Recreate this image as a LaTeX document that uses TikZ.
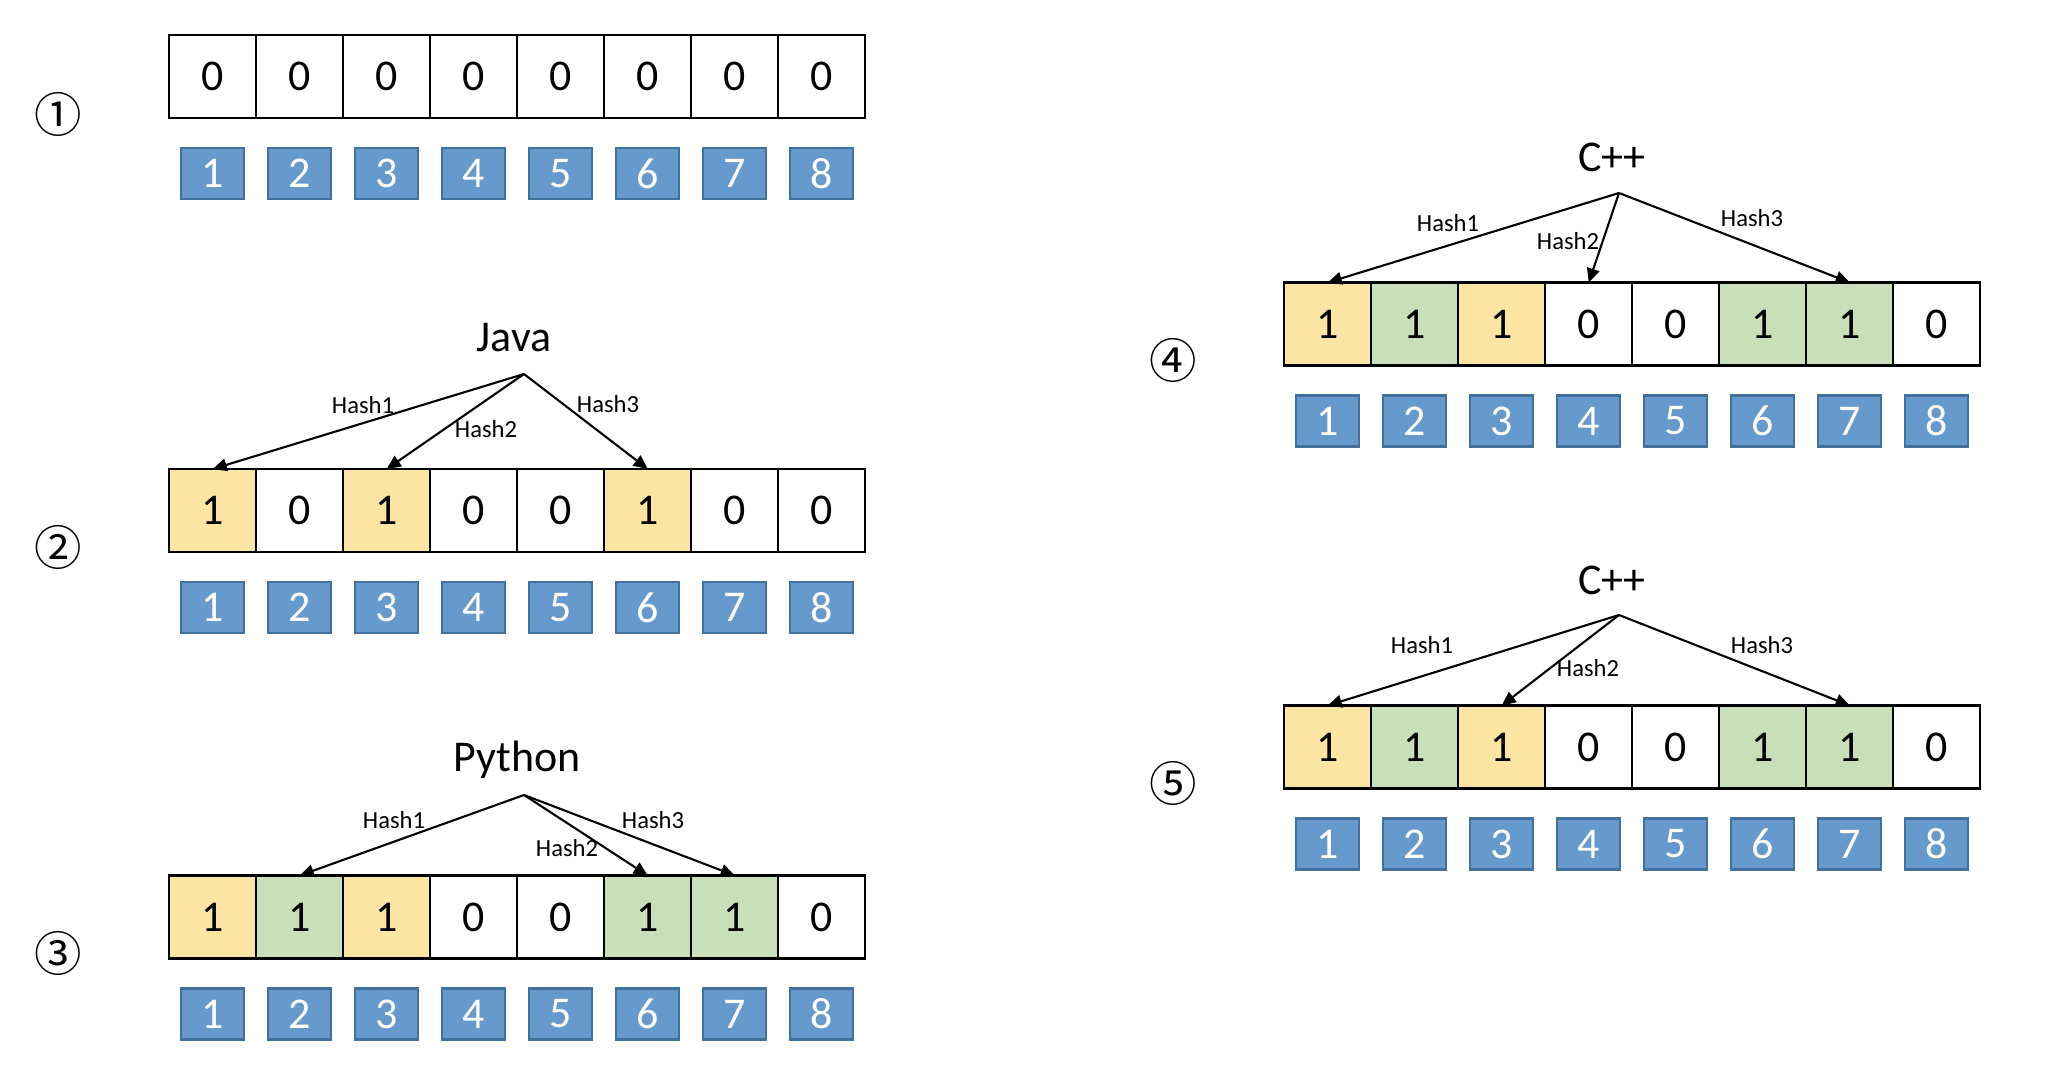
\documentclass[tikz,border=0pt]{standalone}
\usepackage{fontspec}
\setmainfont{Carlito}
\newfontfamily\circfont{Noto Sans CJK SC}
\usepackage{tikz}
\usetikzlibrary{positioning, arrows.meta}
\definecolor{bitYellow}{HTML}{FBE5A3}
\definecolor{bitGreen}{HTML}{C9DFB9}
\definecolor{idxBlue}{HTML}{6699CC}
\definecolor{idxEdge}{HTML}{41719C}

\begin{document}
\begin{tikzpicture}[
  every node/.style={inner sep=0pt, outer sep=0pt},
  bit/.style={draw, line width=0.7pt, minimum width=0.87cm,
    minimum height=0.83cm, font=\fontsize{12.5}{14}\selectfont},
  yellowbit/.style={bit, fill=bitYellow},
  greenbit/.style={bit, fill=bitGreen},
  idx/.style={draw=idxEdge, fill=idxBlue, line width=0.7pt,
    minimum width=0.63cm, minimum height=0.51cm, text=white,
    font=\fontsize{12.5}{14}\selectfont},
  word/.style={font=\fontsize{12.5}{14}\selectfont},
  hashlabel/.style={font=\fontsize{7}{8}\selectfont},
  stepnum/.style={font=\circfont\fontsize{13.5}{15}\selectfont},
  hashline/.style={line width=0.6pt, -{Triangle[length=4pt, width=3.6pt]}},
]
\useasboundingbox (0,0) rectangle (20.48,-10.76);

% Step numbers
\node[stepnum] (n1) at (0.58,-1.14) {①};
\node[stepnum] (n2) at (0.58,-5.47) {②};
\node[stepnum] (n3) at (0.58,-9.53) {③};
\node[stepnum] (n4) at (11.73,-3.60) {④};
\node[stepnum] (n5) at (11.73,-7.83) {⑤};

% Step 1: empty array
\node[bit] (init1) at (2.1275,-0.765) {0};
\node[bit, right=0pt of init1] (init2) {0};
\node[bit, right=0pt of init2] (init3) {0};
\node[bit, right=0pt of init3] (init4) {0};
\node[bit, right=0pt of init4] (init5) {0};
\node[bit, right=0pt of init5] (init6) {0};
\node[bit, right=0pt of init6] (init7) {0};
\node[bit, right=0pt of init7] (init8) {0};
\node[idx, below=0.3cm of init1] (initIdx1) {1};
\node[idx, below=0.3cm of init2] (initIdx2) {2};
\node[idx, below=0.3cm of init3] (initIdx3) {3};
\node[idx, below=0.3cm of init4] (initIdx4) {4};
\node[idx, below=0.3cm of init5] (initIdx5) {5};
\node[idx, below=0.3cm of init6] (initIdx6) {6};
\node[idx, below=0.3cm of init7] (initIdx7) {7};
\node[idx, below=0.3cm of init8] (initIdx8) {8};

% Step 2: Java
\node[word] (java) at (5.14,-3.38) {Java};
\coordinate (javaTop) at (5.24,-3.74);
\node[yellowbit] (java1) at (2.1275,-5.105) {1};
\node[bit, right=0pt of java1] (java2) {0};
\node[yellowbit, right=0pt of java2] (java3) {1};
\node[bit, right=0pt of java3] (java4) {0};
\node[bit, right=0pt of java4] (java5) {0};
\node[yellowbit, right=0pt of java5] (java6) {1};
\node[bit, right=0pt of java6] (java7) {0};
\node[bit, right=0pt of java7] (java8) {0};
\node[idx, below=0.3cm of java1] (javaIdx1) {1};
\node[idx, below=0.3cm of java2] (javaIdx2) {2};
\node[idx, below=0.3cm of java3] (javaIdx3) {3};
\node[idx, below=0.3cm of java4] (javaIdx4) {4};
\node[idx, below=0.3cm of java5] (javaIdx5) {5};
\node[idx, below=0.3cm of java6] (javaIdx6) {6};
\node[idx, below=0.3cm of java7] (javaIdx7) {7};
\node[idx, below=0.3cm of java8] (javaIdx8) {8};
\draw[hashline] (javaTop) -- (java1.north);
\draw[hashline] (javaTop) -- (java3.north);
\draw[hashline] (javaTop) -- (java6.north);
\node[hashlabel] (javaH1) at (3.63,-4.05) {Hash1};
\node[hashlabel] (javaH2) at (4.86,-4.29) {Hash2};
\node[hashlabel] (javaH3) at (6.08,-4.04) {Hash3};

% Step 3: Python
\node[word] (py) at (5.17,-7.60) {Python};
\coordinate (pyTop) at (5.24,-7.95);
\node[yellowbit] (py1) at (2.1275,-9.17) {1};
\node[greenbit, right=0pt of py1] (py2) {1};
\node[yellowbit, right=0pt of py2] (py3) {1};
\node[bit, right=0pt of py3] (py4) {0};
\node[bit, right=0pt of py4] (py5) {0};
\node[greenbit, right=0pt of py5] (py6) {1};
\node[greenbit, right=0pt of py6] (py7) {1};
\node[bit, right=0pt of py7] (py8) {0};
\node[idx, below=0.3cm of py1] (pyIdx1) {1};
\node[idx, below=0.3cm of py2] (pyIdx2) {2};
\node[idx, below=0.3cm of py3] (pyIdx3) {3};
\node[idx, below=0.3cm of py4] (pyIdx4) {4};
\node[idx, below=0.3cm of py5] (pyIdx5) {5};
\node[idx, below=0.3cm of py6] (pyIdx6) {6};
\node[idx, below=0.3cm of py7] (pyIdx7) {7};
\node[idx, below=0.3cm of py8] (pyIdx8) {8};
\draw[hashline] (pyTop) -- (py2.north);
\draw[hashline] (pyTop) -- (py6.north);
\draw[hashline] (pyTop) -- (py7.north);
\node[hashlabel] (pyH1) at (3.94,-8.20) {Hash1};
\node[hashlabel] (pyH2) at (5.67,-8.48) {Hash2};
\node[hashlabel] (pyH3) at (6.53,-8.20) {Hash3};

% Step 4: C++ added
\node[word] (cpp) at (16.12,-1.57) {C++};
\coordinate (cppTop) at (16.19,-1.93);
\node[yellowbit] (cpp1) at (13.2775,-3.24) {1};
\node[greenbit, right=0pt of cpp1] (cpp2) {1};
\node[yellowbit, right=0pt of cpp2] (cpp3) {1};
\node[bit, right=0pt of cpp3] (cpp4) {0};
\node[bit, right=0pt of cpp4] (cpp5) {0};
\node[greenbit, right=0pt of cpp5] (cpp6) {1};
\node[greenbit, right=0pt of cpp6] (cpp7) {1};
\node[bit, right=0pt of cpp7] (cpp8) {0};
\node[idx, below=0.3cm of cpp1] (cppIdx1) {1};
\node[idx, below=0.3cm of cpp2] (cppIdx2) {2};
\node[idx, below=0.3cm of cpp3] (cppIdx3) {3};
\node[idx, below=0.3cm of cpp4] (cppIdx4) {4};
\node[idx, below=0.3cm of cpp5] (cppIdx5) {5};
\node[idx, below=0.3cm of cpp6] (cppIdx6) {6};
\node[idx, below=0.3cm of cpp7] (cppIdx7) {7};
\node[idx, below=0.3cm of cpp8] (cppIdx8) {8};
\draw[hashline] (cppTop) -- (cpp1.north);
\draw[hashline] (cppTop) -- (cpp4.north);
\draw[hashline] (cppTop) -- (cpp7.north);
\node[hashlabel] (cppH1) at (14.48,-2.23) {Hash1};
\node[hashlabel] (cppH2) at (15.68,-2.41) {Hash2};
\node[hashlabel] (cppH3) at (17.52,-2.18) {Hash3};

% Step 5: C++ lookup
\node[word] (chk) at (16.12,-5.80) {C++};
\coordinate (chkTop) at (16.19,-6.15);
\node[yellowbit] (chk1) at (13.2775,-7.47) {1};
\node[greenbit, right=0pt of chk1] (chk2) {1};
\node[yellowbit, right=0pt of chk2] (chk3) {1};
\node[bit, right=0pt of chk3] (chk4) {0};
\node[bit, right=0pt of chk4] (chk5) {0};
\node[greenbit, right=0pt of chk5] (chk6) {1};
\node[greenbit, right=0pt of chk6] (chk7) {1};
\node[bit, right=0pt of chk7] (chk8) {0};
\node[idx, below=0.3cm of chk1] (chkIdx1) {1};
\node[idx, below=0.3cm of chk2] (chkIdx2) {2};
\node[idx, below=0.3cm of chk3] (chkIdx3) {3};
\node[idx, below=0.3cm of chk4] (chkIdx4) {4};
\node[idx, below=0.3cm of chk5] (chkIdx5) {5};
\node[idx, below=0.3cm of chk6] (chkIdx6) {6};
\node[idx, below=0.3cm of chk7] (chkIdx7) {7};
\node[idx, below=0.3cm of chk8] (chkIdx8) {8};
\draw[hashline] (chkTop) -- (chk1.north);
\draw[hashline] (chkTop) -- (chk3.north);
\draw[hashline] (chkTop) -- (chk7.north);
\node[hashlabel] (chkH1) at (14.22,-6.45) {Hash1};
\node[hashlabel] (chkH2) at (15.88,-6.68) {Hash2};
\node[hashlabel] (chkH3) at (17.62,-6.45) {Hash3};

\end{tikzpicture}
\end{document}
